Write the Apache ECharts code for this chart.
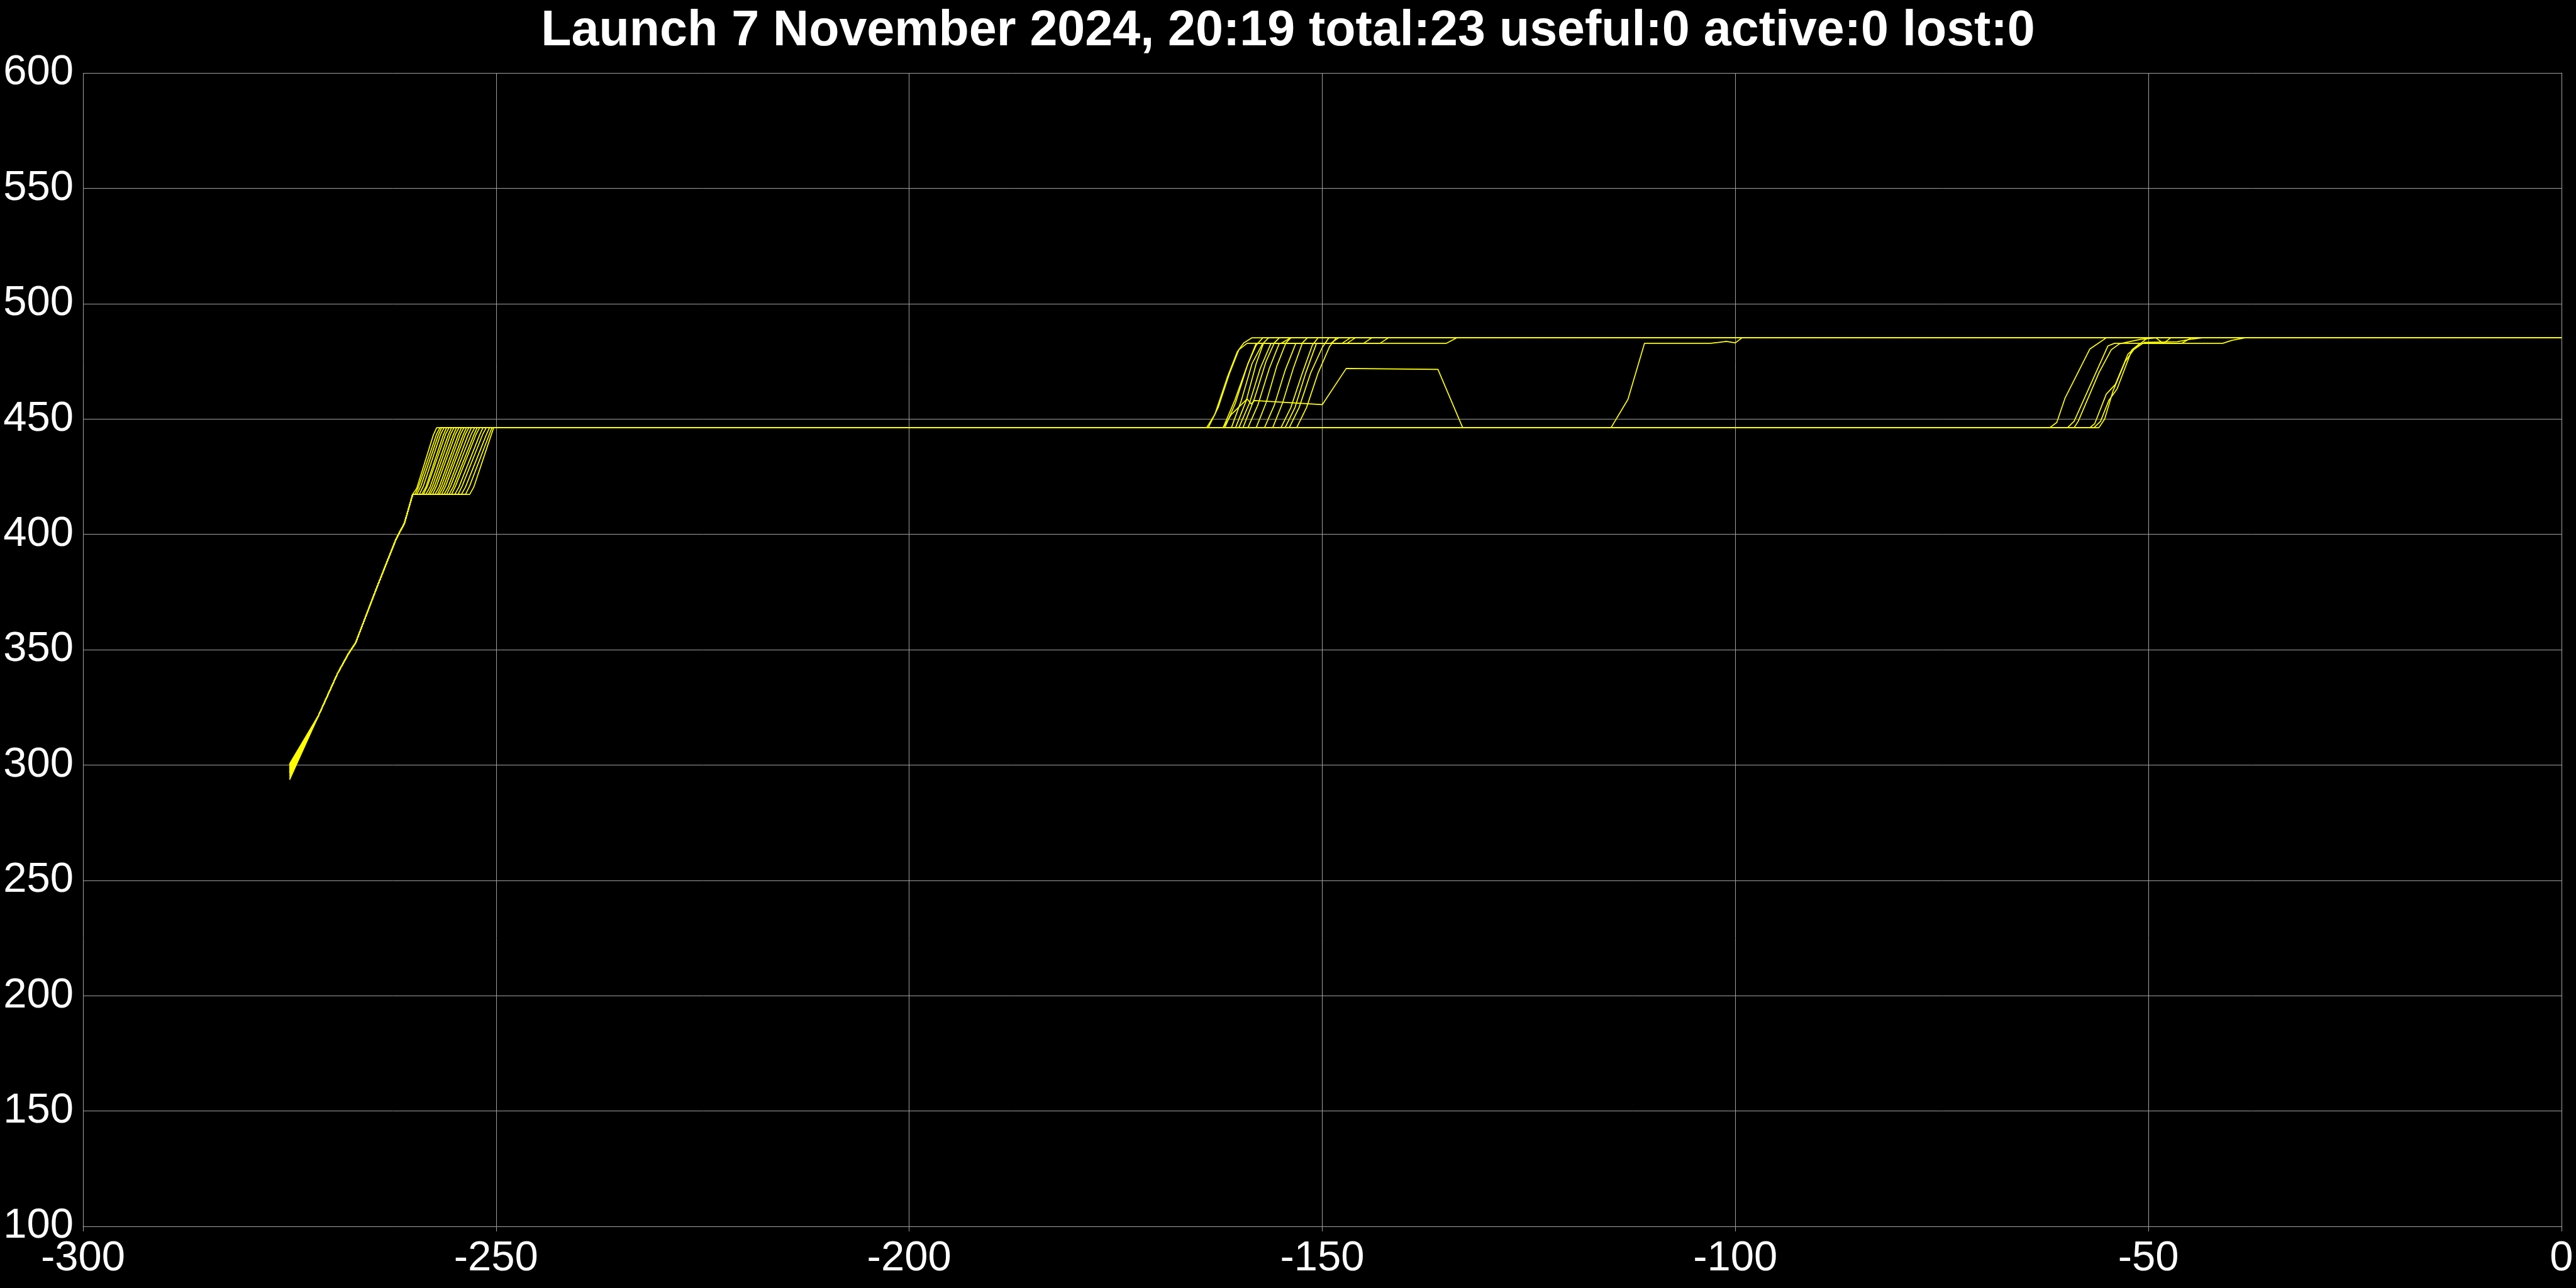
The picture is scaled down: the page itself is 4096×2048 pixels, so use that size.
<!DOCTYPE html>
<html>
<head>
<meta charset="utf-8">
<script src="https://cdn.jsdelivr.net/npm/echarts@6/dist/echarts.min.js"></script>
<style>
html,body{margin:0;padding:0;background:#000;}
#chart{width:4096px;height:2048px;}
</style>
</head>
<body>
<div id="chart"></div>
<script>
const titleText = 'Launch 7 November 2024, 20:19 total:23 useful:0 active:0 lost:0';
const xTicks = [-300, -250, -200, -150, -100, -50, 0];
const yTicks = [100, 150, 200, 250, 300, 350, 400, 450, 500, 550, 600];

// start value of each of the 23 tracks at t = -275
const starts = [298.5, 300.4, 297.0, 299.6, 295.5, 300.0, 296.8, 298.9, 294.2, 299.2, 297.8, 300.2,
                293.6, 298.0, 296.2, 299.8, 297.4, 295.0, 300.3, 298.6, 296.5, 299.0, 297.2];
// common climb shared by all tracks
const launchRamp = [[-271.5, 321.4], [-269.2, 339.6], [-267.9, 348.1], [-267.0, 353.0],
                    [-264.4, 377.3], [-262.1, 398.0], [-261.1, 404.8], [-260.1, 417.3]];

const s01 = [[-260.0,417.3],[-259.6,420],[-257.6,443],[-257.2,446.2],[-164.0,446.2],[-163.0,452],[-161.5,468],[-160.3,479],[-159.5,483],[-158.5,485.2],[0,485.2]];
const s02 = [[-259.8,417.3],[-259.4,420.5],[-257.2,443.5],[-256.8,446.2],[-163.8,446.2],[-162.6,455],[-161.2,470],[-160.1,480],[-159.1,482.8],[-155.0,482.8],[-153.8,485.2],[0,485.2]];
const s03 = [[-259.6,417.3],[-259.1,421],[-257.0,443],[-256.6,446.2],[-162.0,446.2],[-160.6,458],[-159.2,472],[-158.0,482.8],[-147.6,482.8],[-146.6,485.2],[0,485.2]];
const s04 = [[-259.3,417.3],[-258.8,421],[-256.7,443.5],[-256.3,446.2],[-161.8,446.2],[-160.5,457],[-159.0,474],[-158.0,482],[-157.2,485.2],[0,485.2]];
const s05 = [[-259.0,417.3],[-258.5,420.5],[-256.4,443],[-256.0,446.2],[-161.0,446.2],[-159.8,458],[-158.5,474],[-157.2,482.8],[-135.0,482.8],[-133.7,485.2],[0,485.2]];
const s06 = [[-258.8,417.3],[-258.3,421],[-256.1,443.5],[-255.7,446.2],[-160.5,446.2],[-159.2,458],[-158.0,474],[-157.1,483],[-156.5,485.2],[0,485.2]];
const s07 = [[-258.5,417.3],[-258.0,420.5],[-255.8,443],[-255.4,446.2],[-160.1,446.2],[-158.8,457],[-157.5,472],[-156.2,482.8],[-145.0,482.8],[-144.0,485.2],[0,485.2]];
const s08 = [[-258.2,417.3],[-257.7,421],[-255.5,443.5],[-255.1,446.2],[-159.6,446.2],[-158.2,459],[-156.8,475],[-155.8,483],[-155.2,485.2],[0,485.2]];
const s09 = [[-258.0,417.3],[-257.5,420.5],[-255.2,443],[-254.8,446.2],[-159.0,446.2],[-157.8,456],[-156.4,472],[-155.2,482.8],[-143.0,482.8],[-142.0,485.2],[0,485.2]];
const s10 = [[-257.7,417.3],[-257.2,421],[-254.9,443.5],[-254.5,446.2],[-158.0,446.2],[-156.8,457],[-155.5,473],[-154.4,483],[-153.8,485.2],[0,485.2]];
const s11 = [[-257.4,417.3],[-256.9,420.5],[-254.6,443],[-254.2,446.2],[-157.0,446.2],[-155.8,456],[-154.5,471],[-153.2,482.8],[-147.0,482.8],[-146.0,485.2],[0,485.2]];
const s12 = [[-257.1,417.3],[-256.6,421],[-254.3,443.5],[-253.9,446.2],[-156.0,446.2],[-154.8,457],[-153.5,472],[-152.4,483],[-151.8,485.2],[0,485.2]];
const s13 = [[-256.9,417.3],[-256.4,420.5],[-254.0,443],[-253.6,446.2],[-155.0,446.2],[-153.8,455],[-152.4,470],[-151.2,482],[-150.5,485.2],[0,485.2]];
const s14 = [[-256.6,417.3],[-256.1,421],[-253.7,443.5],[-253.3,446.2],[-154.5,446.2],[-153.3,455],[-152.0,470],[-150.7,482.8],[-149.0,482.8],[-148.0,485.2],[0,485.2]];
const s15 = [[-256.3,417.3],[-255.8,420.5],[-253.4,443],[-253.0,446.2],[-154.0,446.2],[-152.8,455],[-151.4,470],[-150.0,481],[-149.2,485.2],[0,485.2]];
const s16 = [[-256.0,417.3],[-255.5,421],[-253.0,443.5],[-252.6,446.2],[-153.1,446.2],[-151.9,455],[-150.5,470],[-149.1,481.5],[-148.3,485.2],[0,485.2]];
const s17 = [[-255.7,417.3],[-255.2,420.5],[-252.7,443],[-252.3,446.2],[-162.0,446.2],[-161.0,452],[-159.1,458.7],[-158.6,456.5],[-158.2,458],[-150.0,456.2],[-147.1,471.9],[-136.0,471.5],[-133.0,446.2],[-56.0,446.2],[-55.3,450],[-54.3,462],[-52.8,475],[-51.8,480],[-50.5,483.2],[-46.5,483.5],[-45.0,484.5],[-43.5,485.2],[0,485.2]];
const s18 = [[-255.4,417.3],[-254.9,421],[-252.4,443.5],[-252.0,446.2],[-115.05,446.2],[-113.0,458.5],[-111.0,482.8],[-103.0,482.8],[-102.0,483.2],[-101.1,483.6],[-100.0,483.0],[-99.2,485.2],[0,485.2]];
const s19 = [[-255.0,417.3],[-254.5,420.5],[-252.0,443],[-251.6,446.2],[-61.95,446.2],[-61.1,448.5],[-60.1,459],[-57.1,480.3],[-55.1,485.2],[0,485.2]];
const s20 = [[-254.6,417.3],[-254.1,421],[-251.6,443.5],[-251.2,446.2],[-59.8,446.2],[-59.0,449],[-54.9,481.7],[-54.1,482.8],[-41.0,482.8],[-39.9,484.1],[-38.3,485.2],[0,485.2]];
const s21 = [[-254.2,417.3],[-253.7,420.5],[-251.2,443],[-250.8,446.2],[-59.0,446.2],[-58.5,449],[-56.0,470],[-54.5,480],[-53.5,482.6],[-51.0,484.5],[-49.0,485.2],[0,485.2]];
const s22 = [[-253.7,417.3],[-253.2,421],[-250.8,443.5],[-250.5,446.2],[-57.1,446.2],[-56.5,448],[-55.1,460.8],[-54.0,465],[-52.5,478],[-51.8,480.3],[-50.1,485.2],[-49.1,485.2],[-48.2,482.7],[-47.3,485.2],[0,485.2]];
const s23 = [[-253.2,417.3],[-252.7,420.5],[-250.6,443],[-250.3,446.2],[-56.6,446.2],[-55.8,449],[-54.8,458],[-53.8,463],[-52.0,480],[-51.0,482.8],[-46.0,482.8],[-44.8,485.2],[0,485.2]];

const tails = [s01,s02,s03,s04,s05,s06,s07,s08,s09,s10,s11,s12,s13,s14,s15,s16,s17,s18,s19,s20,s21,s22,s23];

const chart = echarts.init(document.getElementById('chart'), null, {renderer: 'canvas'});
const gridColor = '#a0a0a0';
const series = tails.map(function (tail, i) {
  return {
    type: 'line',
    data: [[-275, starts[i]]].concat(launchRamp, tail),
    showSymbol: false,
    symbol: 'none',
    lineStyle: {color: '#ffff00', width: 1.7},
    animation: false,
    silent: true
  };
});

chart.setOption({
  backgroundColor: '#000000',
  animation: false,
  title: {
    text: titleText,
    left: 'center',
    top: 6,
    textStyle: {color: '#ffffff', fontSize: 79, fontWeight: 'bold', fontFamily: 'Liberation Sans'}
  },
  grid: {left: 132, right: 23, top: 116, bottom: 98, containLabel: false},
  xAxis: {
    type: 'value', min: xTicks[0], max: xTicks[xTicks.length - 1], interval: 50,
    axisLine: {show: true, lineStyle: {color: gridColor, width: 1}},
    axisTick: {show: true, length: 8, lineStyle: {color: gridColor, width: 1}},
    axisLabel: {color: '#ffffff', fontSize: 67, fontFamily: 'Liberation Sans', margin: 18},
    splitLine: {show: true, lineStyle: {color: gridColor, width: 1}}
  },
  yAxis: {
    type: 'value', min: yTicks[0], max: yTicks[yTicks.length - 1], interval: 50,
    axisLine: {show: true, lineStyle: {color: gridColor, width: 1}},
    axisTick: {show: true, length: 9, lineStyle: {color: gridColor, width: 1}},
    axisLabel: {color: '#ffffff', fontSize: 67, fontFamily: 'Liberation Sans', margin: 15, padding: [0, 0, 16, 0]},
    splitLine: {show: true, lineStyle: {color: gridColor, width: 1}}
  },
  series: series
});
</script>
</body>
</html>
